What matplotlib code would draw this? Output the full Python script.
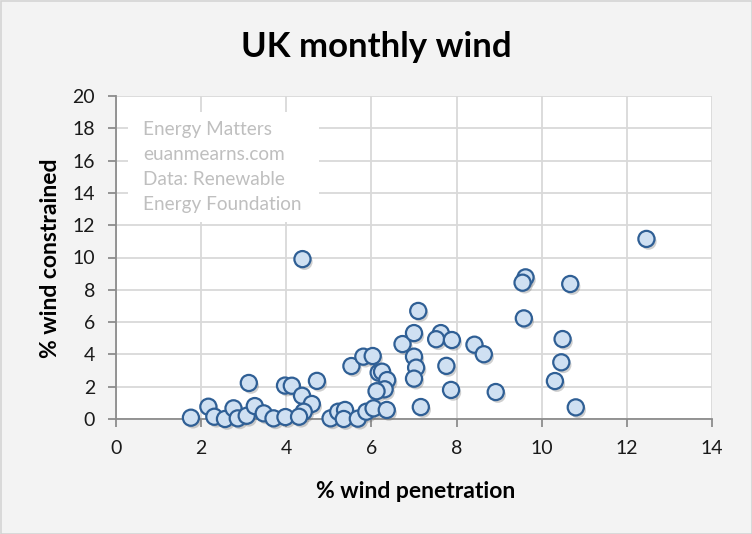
import matplotlib
matplotlib.use("Agg")
import matplotlib.pyplot as plt
import matplotlib.patheffects as pe
from matplotlib.patches import Rectangle

penetration = [1.76, 2.17, 2.31, 2.56, 2.76, 2.86, 3.12, 3.07, 3.26, 3.47,
               3.70, 3.98, 3.97, 4.13, 4.37, 4.60, 4.41, 4.30, 4.72, 4.38,
               5.04, 5.22, 5.38, 5.35, 5.68, 5.88, 6.05, 6.36, 5.53, 5.81,
               6.03, 6.17, 6.25, 6.37, 6.31, 6.12, 6.73, 7.10, 7.00, 7.00,
               7.05, 7.00, 7.16, 7.63, 7.52, 7.89, 7.76, 7.87, 8.42, 8.64,
               8.92, 9.58, 9.62, 9.55, 10.67, 10.49, 10.46, 10.31, 10.80, 12.46]
constrained = [0.08, 0.76, 0.14, 0.00, 0.66, 0.04, 2.23, 0.20, 0.80, 0.35,
               0.04, 0.12, 2.07, 2.06, 1.44, 0.93, 0.45, 0.14, 2.36, 9.90,
               0.04, 0.45, 0.56, 0.00, 0.02, 0.45, 0.66, 0.56, 3.28, 3.86,
               3.90, 2.87, 2.93, 2.41, 1.84, 1.72, 4.64, 6.69, 5.32, 3.86,
               3.18, 2.50, 0.74, 5.32, 4.94, 4.89, 3.29, 1.80, 4.60, 4.01,
               1.67, 6.23, 8.77, 8.44, 8.36, 4.95, 3.51, 2.35, 0.72, 11.15]

x_ticks = [0, 2, 4, 6, 8, 10, 12, 14]
y_ticks = [0, 2, 4, 6, 8, 10, 12, 14, 16, 18, 20]
title = "UK monthly wind"
x_label = "% wind penetration"
y_label = "% wind constrained"
note_lines = ["Energy Matters", "euanmearns.com", "Data: Renewable", "Energy Foundation"]

plt.rcParams['font.family'] = ['Lato', 'DejaVu Sans']

W, H = 752, 534
fig = plt.figure(figsize=(W / 100, H / 100), dpi=100, facecolor='#f3f3f3')
fig.patches.append(Rectangle((0.5 / W, 0.5 / H), 1 - 1.0 / W, 1 - 1.0 / H,
                             transform=fig.transFigure, fill=False,
                             edgecolor='#d4d4d4', lw=1.2))

left, right, bottom, top = 116, 712, 419, 96
ax = fig.add_axes([left / W, 1 - bottom / H, (right - left) / W, (bottom - top) / H])
ax.set_facecolor('white')
ax.set_xlim(0, 14)
ax.set_ylim(0, 20)
ax.set_xticks(x_ticks)
ax.set_yticks(y_ticks)
ax.grid(True, color='#d9d9d9', lw=1.3, zorder=0)
ax.set_axisbelow(True)
for s in ['top', 'right']:
    ax.spines[s].set_visible(False)
for s in ['left', 'bottom']:
    ax.spines[s].set_color('#8c8c8c')
    ax.spines[s].set_linewidth(1.3)
ax.tick_params(axis='both', colors='#8c8c8c', labelcolor='#1a1a1a', labelsize=14,
               length=6, width=1.3)
ax.tick_params(axis='x', pad=9)
ax.tick_params(axis='y', pad=9)

# note box
ax.add_patch(Rectangle((128, H - 222), 191, 110, transform=None,
                       facecolor='white', edgecolor='none', zorder=1.5))
for i, line in enumerate(note_lines):
    fig.text(143 / W, 1 - (130 + 25 * i) / H, line, color='#bfbfbf', fontsize=13.7,
             va='center', ha='left')

ax.scatter(penetration, constrained, s=135, facecolor='#cfe0f2', edgecolor='#2f5f95',
           linewidths=1.6, zorder=3, clip_on=False,
           path_effects=[pe.SimplePatchShadow(offset=(1.5, -2), shadow_rgbFace='#777777', alpha=0.35),
                         pe.Normal()])

fig.text(376 / W, 1 - 47 / H, title, fontsize=25, fontweight='bold', ha='center',
         va='center', color='black')
fig.text(416 / W, 1 - 491 / H, x_label, fontsize=16.5, fontweight='bold', ha='center',
         va='center', color='black')
fig.text(57 / W, 1 - 258 / H, y_label, fontsize=16.5, fontweight='bold', ha='center',
         va='baseline', rotation=90, rotation_mode='anchor', color='black')

fig.savefig('out.png', dpi=100, facecolor=fig.get_facecolor())
